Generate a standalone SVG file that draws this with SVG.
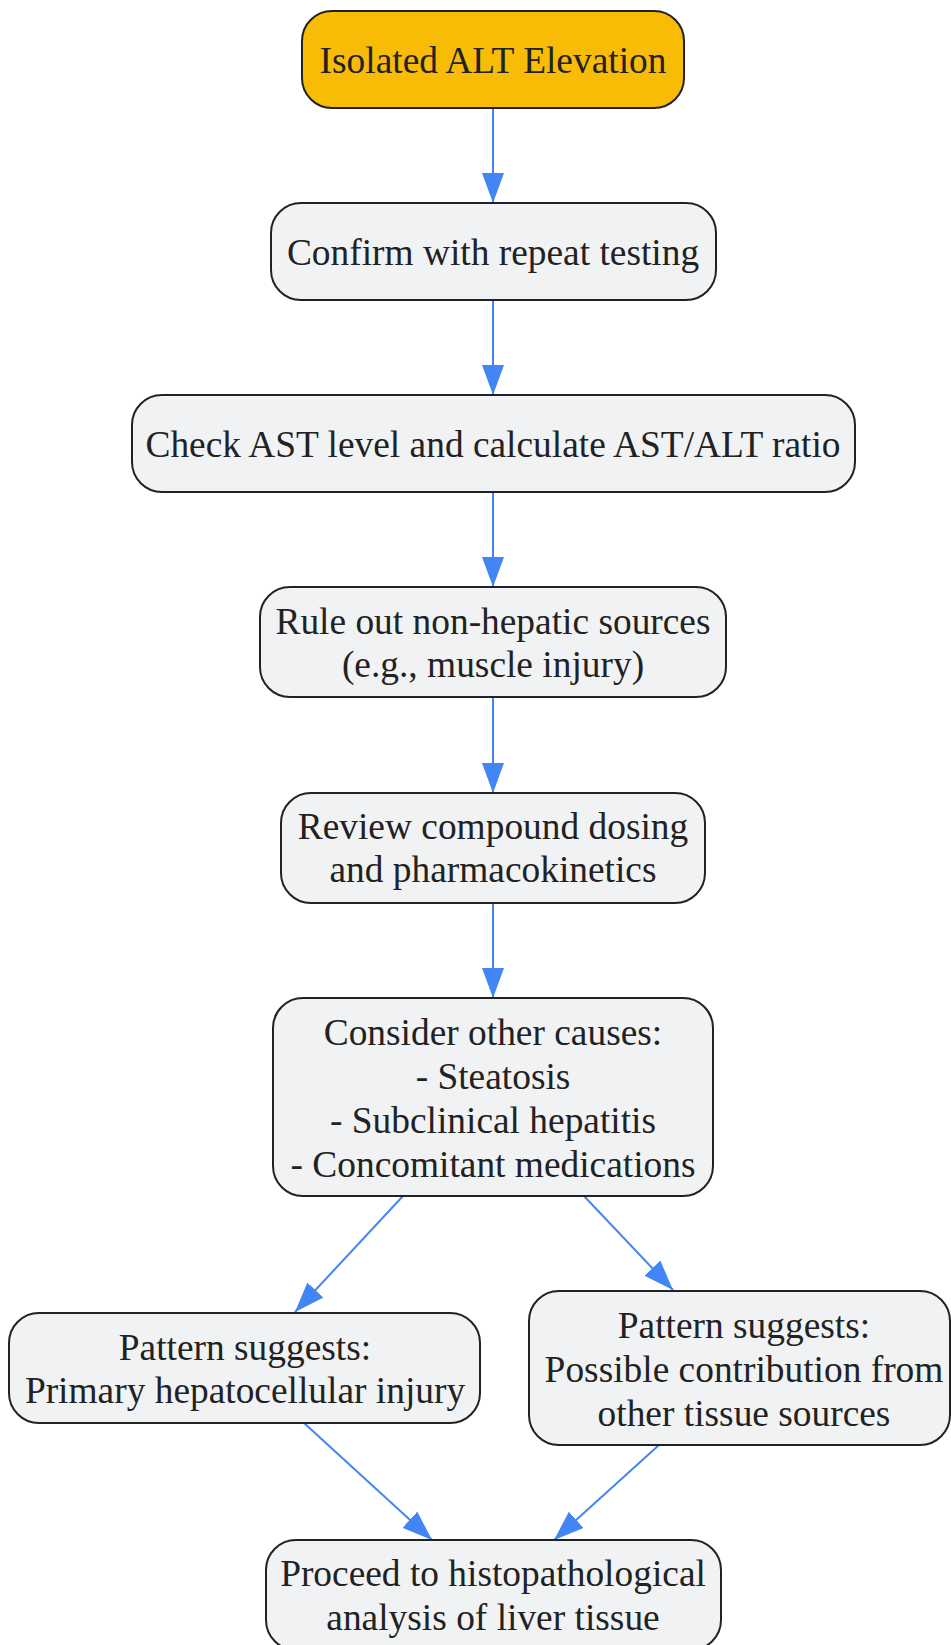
<svg xmlns="http://www.w3.org/2000/svg" width="951" height="1645" viewBox="0 0 951 1645">
  <defs>
    <marker id="arrow" viewBox="0 0 30 22" refX="30" refY="11" markerWidth="30" markerHeight="22" markerUnits="userSpaceOnUse" orient="auto">
      <path d="M0,0 L30,11 L0,22 z" fill="#4285F4"/>
    </marker>
    <style>
      .node rect { fill: #F1F2F4; stroke: #222222; stroke-width: 2; }
      .node.start rect { fill: #F9BC06; }
      .node text { font-family: "Liberation Serif", "Times New Roman", serif; font-size: 37.4px; fill: #222222; text-anchor: middle; }
      .edge { stroke: #4285F4; stroke-width: 2; fill: none; marker-end: url(#arrow); }
    </style>
  </defs>
  <rect width="951" height="1645" fill="#FFFFFF"/>

  <g id="connectors">
    <line class="edge" x1="493" y1="108" x2="493" y2="203"/>
    <line class="edge" x1="493" y1="300" x2="493" y2="395"/>
    <line class="edge" x1="493" y1="492" x2="493" y2="587"/>
    <line class="edge" x1="493" y1="697" x2="493" y2="793"/>
    <line class="edge" x1="493" y1="903" x2="493" y2="998"/>
    <line class="edge" x1="403" y1="1196" x2="295" y2="1312"/>
    <line class="edge" x1="584" y1="1196" x2="673" y2="1290"/>
    <line class="edge" x1="304" y1="1423" x2="432" y2="1540"/>
    <line class="edge" x1="659" y1="1445" x2="554" y2="1540"/>
  </g>

  <g id="node-isolated-alt" class="node start">
    <rect x="302" y="11" width="382" height="97" rx="30" ry="30"/>
    <text x="493" y="73">Isolated ALT Elevation</text>
  </g>

  <g id="node-confirm" class="node">
    <rect x="271" y="203" width="445" height="97" rx="30" ry="30"/>
    <text x="493" y="265">Confirm with repeat testing</text>
  </g>

  <g id="node-check-ast" class="node">
    <rect x="132" y="395" width="723" height="97" rx="30" ry="30"/>
    <text x="493" y="457">Check AST level and calculate AST/ALT ratio</text>
  </g>

  <g id="node-rule-out" class="node">
    <rect x="260" y="587" width="466" height="110" rx="30" ry="30"/>
    <text x="493" y="634">Rule out non-hepatic sources</text>
    <text x="493" y="677">(e.g., muscle injury)</text>
  </g>

  <g id="node-review" class="node">
    <rect x="281" y="793" width="424" height="110" rx="30" ry="30"/>
    <text x="493" y="839">Review compound dosing</text>
    <text x="493" y="882">and pharmacokinetics</text>
  </g>

  <g id="node-consider" class="node">
    <rect x="273" y="998" width="440" height="198" rx="30" ry="30"/>
    <text x="493" y="1045">Consider other causes:</text>
    <text x="493" y="1089">- Steatosis</text>
    <text x="493" y="1133">- Subclinical hepatitis</text>
    <text x="493" y="1177">- Concomitant medications</text>
  </g>

  <g id="node-hepatocellular" class="node">
    <rect x="9" y="1313" width="471" height="110" rx="30" ry="30"/>
    <text x="245" y="1360">Pattern suggests:</text>
    <text x="245" y="1403">Primary hepatocellular injury</text>
  </g>

  <g id="node-other-tissue" class="node">
    <rect x="529" y="1291" width="421" height="154" rx="30" ry="30"/>
    <text x="744" y="1338">Pattern suggests:</text>
    <text x="744" y="1382">Possible contribution from</text>
    <text x="744" y="1426">other tissue sources</text>
  </g>

  <g id="node-histopathology" class="node">
    <rect x="266" y="1540" width="455" height="110" rx="30" ry="30"/>
    <text x="493" y="1586">Proceed to histopathological</text>
    <text x="493" y="1630">analysis of liver tissue</text>
  </g>
</svg>
